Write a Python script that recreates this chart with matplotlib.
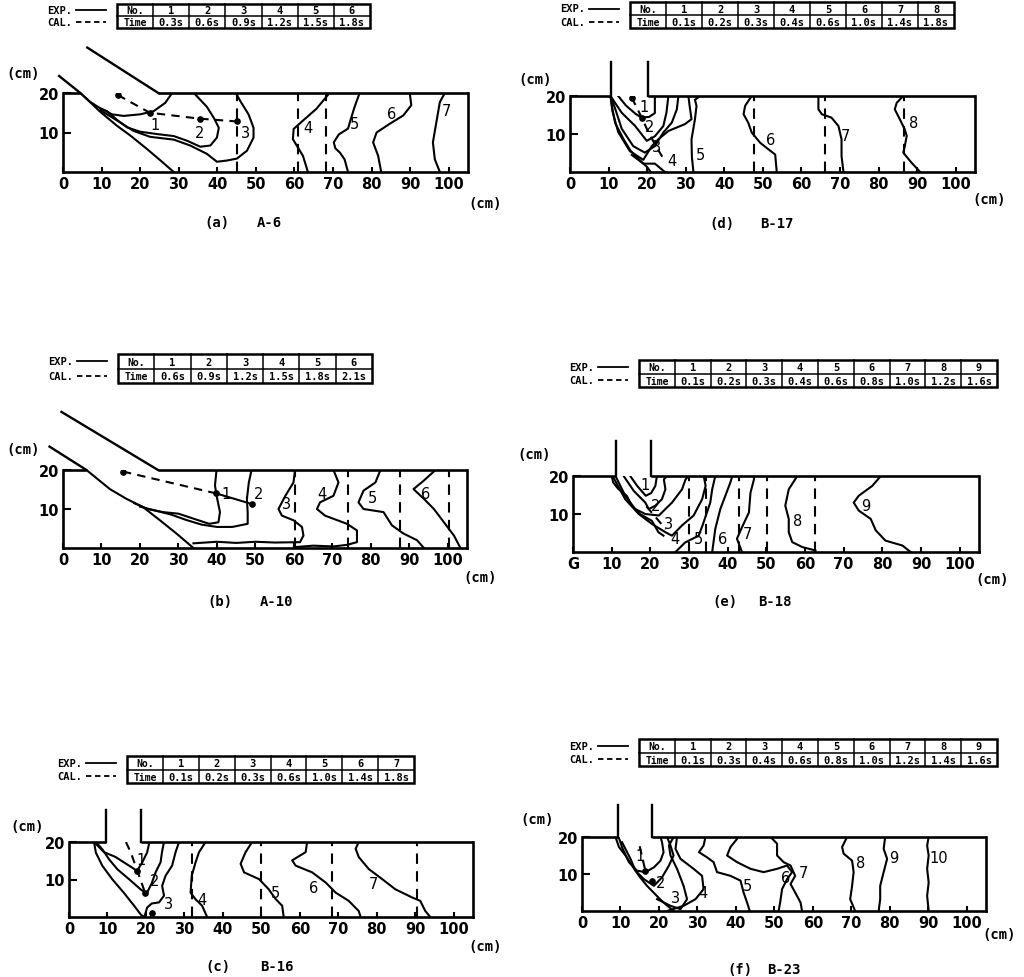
import matplotlib
matplotlib.use("Agg")
import matplotlib.pyplot as plt
from matplotlib.patches import Rectangle

W, H = 1024, 978

# ---- panel (a) A-6 ----
A6_NO = [1, 2, 3, 4, 5, 6]
A6_TIME = ["0.3s", "0.6s", "0.9s", "1.2s", "1.5s", "1.8s"]
A6_INLET = [[(6.3, 31.5), (24.7, 20)], [(-1.0, 24.3), (4.5, 20)]]
A6_GAP = (4.5, 24.7)
A6_EXP = [
    [(4.5, 20), (7, 17.8), (9.7, 16.1), (12.7, 14.6), (15.7, 14.2), (20, 14.6), (23.5, 15.4), (26.5, 17.5), (28.3, 20)],
    [(9.7, 16.1), (11.4, 15.4), (14, 13.2), (16.6, 11.3), (20, 10.2), (24.4, 9.6), (28.7, 9.1), (32.2, 7.9), (35.6, 6.4),
     (38.2, 6.7), (39.9, 8.7), (40.4, 11.2), (39.1, 13.7), (37.3, 16.5), (34.7, 19.2), (33.9, 20)],
    [(9.7, 15.6), (13.1, 13.6), (18.3, 10.4), (22.6, 8.9), (28.7, 8.2), (33, 6.7), (37.3, 4.6), (39.9, 2.6), (42.5, 2.9),
     (45.1, 3.4), (47.7, 5.4), (49.4, 8.7), (49.4, 11.2), (48.1, 14.6), (46, 17.9), (44.8, 20)],
    [(4.5, 20), (7.1, 17.6), (9.7, 15.2), (14, 11.7), (17.5, 9.2), (21.8, 5.8), (25.3, 2.9), (28.7, 0)],
    [(69.1, 20), (65.7, 16), (62.2, 13), (59.8, 10.9), (59.6, 8.3), (60.9, 6.2), (62.2, 4.1), (63.5, 0)],
    [(76.9, 20), (75.6, 16.5), (74.5, 13), (73.9, 11), (71.5, 9.5), (70.2, 7.5), (70.6, 6), (71.8, 4.9), (73, 3.2), (73.9, 0)],
    [(89.9, 20), (90.3, 16.9), (88.2, 14.3), (84.7, 12.2), (81.3, 10), (80.4, 7.5), (81.7, 4.1), (82.5, 0)],
    [(99, 20), (97.7, 17.7), (96.8, 12.6), (95.9, 7.5), (96.4, 3.2), (97.7, 0)],
]
A6_CAL = [[(14.2, 19.5), (22.5, 15), (35.5, 13.5), (45, 12.8)]]
A6_CAL_SOLID = []
A6_DOTS = [(14.2, 19.5), (22.5, 15), (35.5, 13.5), (45, 12.8)]
A6_VERT = [45, 61, 68.3]
A6_LABELS = [("1", 23.8, 11.9), ("2", 35.3, 10), ("3", 47.3, 10), ("4", 63.5, 11.3),
             ("5", 75.6, 12.2), ("6", 85.1, 14.7), ("7", 99.4, 15.6)]

# ---- panel (b) A-10 ----
A10_NO = [1, 2, 3, 4, 5, 6]
A10_TIME = ["0.6s", "0.9s", "1.2s", "1.5s", "1.8s", "2.1s"]
A10_INLET = [[(-0.4, 34.9), (24.7, 20)], [(-3.5, 26), (6.1, 20)]]
A10_GAP = (6.1, 24.7)
A10_EXP = [
    [(6.1, 20), (12.2, 15.1), (16.5, 12.6), (20.8, 10.5), (25.2, 7.1), (29.5, 3.7), (33.9, 0)],
    [(18.5, 11.5), (22, 10), (26, 9.2), (30, 8.8), (34, 7.5), (38, 6.2), (40.4, 6.6), (40.8, 9.2), (40, 13),
     (39.5, 16), (39.9, 20)],
    [(20, 10.6), (24, 9.6), (28, 8.6), (32, 7.2), (36, 6), (40, 5.4), (44, 5.4), (48, 6.2), (48, 9), (47.8, 12.6),
     (48.3, 16.8), (49, 20)],
    [(33.9, 1.2), (40, 1.6), (45, 1.3), (50, 1.6), (55, 1.4), (61.6, 1.5), (62.5, 3.2), (62.1, 5.4), (59.9, 7.1),
     (56.9, 8.3), (56, 10), (57.8, 13.4), (59.9, 16.8), (60.3, 20)],
    [(60, 0.2), (65, 0.6), (70.3, 0.4), (73.8, 0.8), (76.4, 1.5), (76.4, 4.5), (73.8, 6.2), (68.1, 8.3), (66, 10),
     (66.8, 11.7), (70.3, 13.4), (71.6, 16.8), (70.3, 20)],
    [(82.5, 20), (81.2, 16.8), (78.1, 14.7), (76.8, 11.7), (78.1, 10), (83.3, 9.2), (85.5, 5.8), (88.5, 3.7),
     (92, 2), (93.8, 0)],
    [(96.8, 20), (93.8, 17.3), (91.1, 15.1), (93.8, 12.6), (96.4, 10), (99, 6.6), (101.6, 3.2), (103.3, 0)],
]
A10_CAL = [[(15.6, 19.6), (39.8, 14)]]
A10_CAL_SOLID = [[(39.8, 14), (49, 11.3)]]
A10_DOTS = [(15.6, 19.6), (39.8, 14), (49, 11.3)]
A10_VERT = [60.3, 74.2, 87.7, 100.3]
A10_LABELS = [("1", 42.5, 14), ("2", 50.8, 13.9), ("3", 58, 11.3), ("4", 67.3, 13.9),
              ("5", 80.3, 13), ("6", 94.2, 13.9)]

# ---- panel (c) B-16 ----
B16_NO = [1, 2, 3, 4, 5, 6, 7]
B16_TIME = ["0.1s", "0.2s", "0.3s", "0.6s", "1.0s", "1.4s", "1.8s"]
B16_INLET = [[(9.7, 20), (9.7, 28.5)], [(18.6, 20), (18.6, 28.5)]]
B16_GAP = (9.7, 18.6)
B16_EXP = [
    [(6.5, 20), (7, 17.1), (8.7, 13.6), (11.3, 10), (14.3, 6.4), (17, 2.9), (18.7, 0.6), (19.6, 0)],
    [(6.5, 20), (9.1, 17.3), (12.1, 16), (15.6, 13.7), (17.7, 12.3), (19, 14.5), (20.3, 17.2), (20.8, 19.5), (20.6, 20)],
    [(7, 20), (8.7, 18), (10.4, 15.4), (12.6, 12.7), (15.7, 10), (18.7, 7.3), (20.2, 6.3), (21.5, 9), (22.5, 11.9),
     (23.8, 14.6), (24.2, 17.5), (24.7, 20)],
    [(19.6, 0), (20.3, 2.5), (21.5, 3.6), (23.4, 3.9), (24.7, 5.7), (24.2, 8.3), (25.1, 11), (26.8, 13.7),
     (27.7, 17.3), (28.6, 20)],
    [(35.5, 20), (33.8, 17.3), (32.9, 14.6), (31.9, 11), (31.6, 6.5), (32.9, 4.7), (34.6, 3), (35.9, 0)],
    [(47.6, 20), (45.9, 17.3), (44.6, 14.2), (45.5, 11.9), (49.4, 10.1), (51.9, 7.4), (53.7, 4.8), (55.4, 3), (55.8, 0)],
    [(61.9, 20), (61.5, 17.3), (58, 15.1), (58.9, 13.7), (63.2, 11.9), (66.7, 9.2), (69.3, 6.5), (72.7, 4.3),
     (75.3, 1.6), (75.8, 0)],
    [(75.3, 20), (74.5, 18.2), (75.3, 16), (77.9, 12.8), (81.4, 10.1), (84.8, 7.4), (89.2, 5.2), (91.3, 4.3),
     (92.6, 1.6), (93.9, 0)],
]
B16_CAL = [[(14.8, 20), (16.1, 17.1), (17.8, 12.2), (19.8, 6.4)]]
B16_CAL_SOLID = []
B16_DOTS = [(17.8, 12.3), (19.8, 6.4), (21.6, 1.2)]
B16_VERT = [32, 49.8, 68.4, 90.5]
B16_LABELS = [("1", 18.8, 15.2), ("2", 22.3, 9.7), ("3", 25.8, 3.5), ("4", 34.6, 4.7),
              ("5", 53.7, 6.5), ("6", 63.6, 7.9), ("7", 79.2, 8.8)]

# ---- panel (d) B-17 ----
B17_NO = [1, 2, 3, 4, 5, 6, 7, 8]
B17_TIME = ["0.1s", "0.2s", "0.3s", "0.4s", "0.6s", "1.0s", "1.4s", "1.8s"]
B17_INLET = [[(10.5, 20), (10.5, 29)], [(20.1, 20), (20.1, 29)]]
B17_GAP = (10.5, 20.1)
B17_EXP = [
    [(10.5, 20), (10.9, 17.2), (11.7, 12.9), (13.9, 8.6), (15.7, 5.6), (17.8, 3.4), (20, 1.3), (20.9, 0)],
    [(12.5, 20), (14.5, 17.5), (17, 15.3), (18.6, 14.3), (20.5, 14.5), (22, 15.5), (22, 20)],
    [(10.5, 20), (13.4, 15.6), (16.9, 12.1), (19.9, 8.2), (22, 9.4), (24.2, 12.1), (25, 15.6), (25.5, 20)],
    [(10.5, 20), (11.7, 16.7), (13.4, 11.4), (16.4, 6.8), (19.4, 5.1), (22, 6.8), (24.2, 10.4), (26.4, 13),
     (27.7, 16.5), (28.1, 20)],
    [(10.5, 20), (11, 16), (12.5, 10.5), (15.5, 5.5), (19, 3.2), (21.2, 6.8), (22.9, 8.6), (25.5, 10.8),
     (29.8, 12.6), (31.5, 13.9), (31, 17.5), (30.7, 20)],
    [(16, 4.5), (19, 2.2), (22, 2.2), (24.6, 0)],
    [(32, 0), (31.6, 4), (31.5, 8.6), (32.4, 13.9), (32.8, 17.4), (32.4, 19), (33.7, 20)],
    [(47.1, 20), (45.4, 17.4), (45, 15.2), (46.2, 13), (47.1, 10.4), (49.3, 7.7), (51.4, 6), (53.2, 4.6), (53.6, 0)],
    [(64.4, 20), (64.4, 16.5), (65.3, 15.2), (67.8, 14.3), (69.6, 12.1), (70.4, 8.6), (70.4, 4.2), (70.9, 0)],
    [(86.4, 20), (84.7, 18.2), (84.2, 16.5), (85.5, 13.9), (86.8, 11.2), (87.3, 9.5), (86.8, 6.8), (86.4, 5.1),
     (88.5, 2.5), (90.8, 0)],
]
B17_CAL = [[(16, 19.6), (18.6, 14.3), (20.3, 10.5), (22.3, 6.8), (24.5, 3)]]
B17_CAL_SOLID = []
B17_DOTS = [(16, 19.6), (18.6, 14.3)]
B17_VERT = [47.8, 66.1, 86.7]
B17_LABELS = [("1", 19.3, 17.2), ("2", 20.7, 12.1), ("3", 22.5, 6.8), ("4", 26.4, 2.9),
              ("5", 33.7, 4.6), ("6", 51.9, 8.6), ("7", 71.3, 9.5), ("8", 89, 13)]

# ---- panel (e) B-18 ----
B18_NO = [1, 2, 3, 4, 5, 6, 7, 8, 9]
B18_TIME = ["0.1s", "0.2s", "0.3s", "0.4s", "0.6s", "0.8s", "1.0s", "1.2s", "1.6s"]
B18_INLET = [[(11, 20), (11, 29.1)], [(20.3, 20), (20.3, 29.1)]]
B18_GAP = (11, 20.3)
B18_EXP = [
    [(10, 20), (10.4, 18.3), (11.7, 16.6), (13.9, 14.8), (15.2, 12.2), (17.3, 10), (20.4, 8.2), (22.1, 5.2), (23.4, 4.3)],
    [(14.8, 20), (16.6, 17.4), (18.8, 14.8), (20.2, 15.5), (21.3, 17.4), (21.7, 20)],
    [(13.1, 20), (15.7, 16.1), (18.7, 13), (19.6, 11.3), (21.3, 12.2), (23, 13.9), (23.9, 16.5), (23.5, 19.1), (24.3, 20)],
    [(11, 20), (13.5, 14.8), (16.1, 11.3), (18.7, 10), (22.2, 9.6), (25.6, 13), (28.2, 16.5), (29.1, 19.1), (29.9, 20)],
    [(10.5, 19.5), (13.5, 13.9), (17, 10), (20.4, 7.4), (23.9, 5.2), (25.6, 4.3), (28.2, 7), (31.2, 9.6), (33.4, 13.9),
     (34.3, 17.4), (33.8, 20)],
    [(26.5, 0), (29, 2.5), (32.5, 4.3), (33.5, 7), (34.5, 10), (35.5, 13), (36, 16.5), (36.8, 20)],
    [(36, 0), (36.8, 6.1), (38.1, 11.3), (39.4, 14.8), (40.7, 18.3), (41.2, 20)],
    [(43.7, 0), (42.4, 3.5), (43.7, 6.5), (45.5, 10.4), (45.9, 15.6), (46.8, 19.1), (46.8, 20)],
    [(58, 20), (55.8, 16.5), (54.9, 12.2), (55.8, 8.7), (55.8, 5.2), (56.7, 2.6), (59.3, 1.3), (62.7, 0.4)],
    [(79.6, 20), (77.4, 17.4), (73.9, 14.8), (72.6, 13), (73.9, 10.9), (77, 8.7), (78.3, 5.7), (80.8, 3), (85.2, 1.7),
     (87.3, 0)],
]
B18_CAL = [[(19, 12), (21.5, 9), (24, 6)]]
B18_CAL_SOLID = []
B18_DOTS = []
B18_VERT = [29.9, 34.3, 42.9, 50.2, 62.7]
B18_LABELS = [("1", 18.7, 17.8), ("2", 21.3, 12.2), ("3", 24.6, 7.4), ("4", 26.3, 3.5), ("5", 32.5, 3.5),
              ("6", 38.6, 3.5), ("7", 45, 4.8), ("8", 58.2, 8.3), ("9", 75.7, 12.2)]

# ---- panel (f) B-23 ----
B23_NO = [1, 2, 3, 4, 5, 6, 7, 8, 9]
B23_TIME = ["0.1s", "0.3s", "0.4s", "0.6s", "0.8s", "1.0s", "1.2s", "1.4s", "1.6s"]
B23_INLET = [[(9.3, 20), (9.3, 28.6)], [(18.2, 20), (18.2, 28.6)]]
B23_GAP = (9.3, 18.2)
B23_EXP = [
    [(8.7, 20), (9.6, 17.3), (11.3, 15), (13, 12.3), (14.8, 9.5), (16.9, 6.8), (19.9, 3.6), (21.2, 2.3), (23.8, 0)],
    [(9.5, 20), (10.5, 17), (12.2, 13.2), (14.3, 10.9), (16.5, 10.5), (18.7, 11.8), (20.4, 13.6), (21.2, 15.9),
     (20.8, 18.6), (20.4, 20)],
    [(10.4, 18.6), (12.6, 14.1), (13.9, 10.9), (16.1, 8.6), (18.7, 6.8), (20.8, 9.1), (22.6, 12.3), (23.8, 15),
     (23, 17.7), (22.1, 20)],
    [(19.5, 3.2), (23, 1.4), (25.6, 0.5), (27.3, 3.2), (26.4, 6.8), (24.7, 11.4), (23, 15), (22.6, 17.7), (23.8, 20)],
    [(22.1, 0), (26.4, 1.4), (29.5, 3.2), (31.6, 5.9), (31.2, 9.5), (29, 11.4), (25.6, 14.1), (24.3, 16.8), (24.7, 20)],
    [(32.1, 20), (31.6, 17.7), (30.4, 15.9), (32.5, 14.5), (34.2, 13.2), (35.1, 10.5), (38.6, 9.5), (41.2, 8.2),
     (42, 5), (42.9, 2.3), (43.6, 0)],
    [(40.7, 20), (38.6, 17.3), (37.7, 15), (40.3, 13.2), (43.8, 11.4), (47.2, 10.5), (50.7, 11.4), (53.3, 12.3),
     (54.6, 10.5), (53.3, 8.6), (52, 5.9), (51.5, 2.3), (51.1, 0)],
    [(49, 20), (50.7, 18.2), (50.7, 15), (52.4, 13.2), (54.2, 12.3), (55.4, 9.5), (54.2, 7.3), (55.4, 5), (56.8, 2.3),
     (57.2, 0)],
    [(68.9, 20), (67.6, 17.3), (68, 15.5), (70.2, 13.6), (70.6, 10.5), (70.2, 6.8), (69.7, 3.2), (71, 0)],
    [(78.8, 20), (78.4, 16.8), (79.3, 14.1), (78.4, 10.5), (77.5, 6.8), (77.5, 3.2), (77.1, 0)],
    [(90.1, 20), (89.7, 17.7), (90.1, 15), (89.7, 11.4), (90.1, 7.7), (89.7, 4.1), (90.1, 0)],
]
B23_CAL = [[(15, 17.5), (16.5, 10.7)]]
B23_CAL_SOLID = []
B23_DOTS = [(16.5, 10.7), (18.2, 8.2)]
B23_VERT = []
B23_LABELS = [("1", 15, 15), ("2", 20.4, 7.7), ("3", 24.3, 3.6), ("4", 31.5, 5), ("5", 42.9, 6.8),
              ("6", 52.9, 9.1), ("7", 57.6, 10.5), ("8", 72.3, 13.2), ("9", 81, 14.5), ("10", 92.7, 14.5)]

X_TICKS = [0, 10, 20, 30, 40, 50, 60, 70, 80, 90, 100]
X_LABELS = ["0", "10", "20", "30", "40", "50", "60", "70", "80", "90", "100"]
X_LABELS_E = ["G"] + X_LABELS[1:]

LW = 1.5
NUM_FONT = dict(family="DejaVu Sans", fontsize=10.5, fontweight="bold")
MONO = dict(family="DejaVu Sans Mono", fontweight="bold")

fig = plt.figure(figsize=(W / 100, H / 100), dpi=100)
fig.patch.set_facecolor("white")


def draw_panel(box, inlet, gap, exp, cal, cal_solid, dots, vert, labels, xlabels):
    l, t, r, b = box
    ax = fig.add_axes([l / W, 1 - b / H, (r - l) / W, (b - t) / H])
    ax.set_xlim(0, 105)
    ax.set_ylim(0, 20)
    ax.patch.set_alpha(0)
    ax.spines["top"].set_visible(False)
    for s in ("left", "bottom", "right"):
        ax.spines[s].set_linewidth(1.9)
    ax.set_xticks(X_TICKS)
    ax.set_xticklabels(xlabels, **NUM_FONT)
    ax.set_yticks([10, 20])
    ax.set_yticklabels(["10", "20"], **NUM_FONT)
    ax.tick_params(axis="x", direction="in", length=3.5, width=1.5, pad=3)
    ax.tick_params(axis="y", direction="in", length=6, width=1.5, pad=3)

    ax.plot([0, gap[0]], [20, 20], color="k", lw=1.9, clip_on=False, solid_capstyle="butt")
    ax.plot([gap[1], 105], [20, 20], color="k", lw=1.9, clip_on=False, solid_capstyle="butt")
    for ln in inlet:
        xs, ys = zip(*ln)
        ax.plot(xs, ys, color="k", lw=LW + 0.2, clip_on=False)
    for ln in exp:
        xs, ys = zip(*ln)
        ax.plot(xs, ys, color="k", lw=LW, solid_joinstyle="round")
    for ln in cal:
        xs, ys = zip(*ln)
        ax.plot(xs, ys, color="k", lw=LW, ls=(0, (4, 3)))
    for ln in cal_solid:
        xs, ys = zip(*ln)
        ax.plot(xs, ys, color="k", lw=LW)
    if dots:
        xs, ys = zip(*dots)
        ax.plot(xs, ys, "o", color="k", ms=3.8, ls="none")
    for v in vert:
        ax.plot([v, v], [0, 20], color="k", lw=LW, ls=(0, (5, 3.5)))
    for txt, x, y in labels:
        ax.text(x, y, txt, ha="center", va="center", fontsize=10.5, family="DejaVu Sans")
    return ax


draw_panel((63, 94, 468, 173), A6_INLET, A6_GAP, A6_EXP, A6_CAL, A6_CAL_SOLID, A6_DOTS, A6_VERT, A6_LABELS, X_LABELS)
draw_panel((570, 97, 975, 173), B17_INLET, B17_GAP, B17_EXP, B17_CAL, B17_CAL_SOLID, B17_DOTS, B17_VERT,
           B17_LABELS, X_LABELS)
draw_panel((63, 471, 467, 549), A10_INLET, A10_GAP, A10_EXP, A10_CAL, A10_CAL_SOLID, A10_DOTS, A10_VERT,
           A10_LABELS, X_LABELS)
draw_panel((573, 477, 979, 553), B18_INLET, B18_GAP, B18_EXP, B18_CAL, B18_CAL_SOLID, B18_DOTS, B18_VERT,
           B18_LABELS, X_LABELS_E)
draw_panel((69, 843, 473, 918), B16_INLET, B16_GAP, B16_EXP, B16_CAL, B16_CAL_SOLID, B16_DOTS, B16_VERT,
           B16_LABELS, X_LABELS)
draw_panel((582, 838, 986, 912), B23_INLET, B23_GAP, B23_EXP, B23_CAL, B23_CAL_SOLID, B23_DOTS, B23_VERT,
           B23_LABELS, X_LABELS)

# overlay in pixel coordinates for tables and captions
ov = fig.add_axes([0, 0, 1, 1])
ov.set_xlim(0, W)
ov.set_ylim(H, 0)
ov.axis("off")
ov.patch.set_alpha(0)


def draw_table(box, nos, times):
    l, t, r, b = box
    n = len(nos) + 1
    cw = (r - l) / n
    mid = (t + b) / 2
    ov.add_patch(Rectangle((l, t), r - l, b - t, fill=False, lw=1.8, ec="k"))
    ov.plot([l, r], [mid, mid], color="k", lw=1.1)
    for i in range(1, n):
        ov.plot([l + i * cw, l + i * cw], [t, b], color="k", lw=1.1)
    ov.text(l + cw / 2, (t + mid) / 2 + 0.5, "No.", ha="center", va="center", fontsize=7, **MONO)
    ov.text(l + cw / 2, (mid + b) / 2 + 0.5, "Time", ha="center", va="center", fontsize=7, **MONO)
    for i, (nn, tm) in enumerate(zip(nos, times)):
        cx = l + (i + 1.5) * cw
        ov.text(cx, (t + mid) / 2 + 0.5, str(nn), ha="center", va="center", fontsize=7.5, **MONO)
        ov.text(cx, (mid + b) / 2 + 0.5, tm, ha="center", va="center", fontsize=7.5, **MONO)
    lx = l - 70
    ov.text(lx, (t + mid) / 2, "EXP.", ha="left", va="center", fontsize=7.5, **MONO)
    ov.text(lx, (mid + b) / 2, "CAL.", ha="left", va="center", fontsize=7.5, **MONO)
    ov.plot([lx + 29, lx + 59], [(t + mid) / 2, (t + mid) / 2], color="k", lw=1.3)
    ov.plot([lx + 29, lx + 59], [(mid + b) / 2, (mid + b) / 2], color="k", lw=1.3, ls=(0, (3, 2)))


draw_table((117, 5, 370, 29), A6_NO, A6_TIME)
draw_table((630, 3, 954, 29), B17_NO, B17_TIME)
draw_table((118, 355, 372, 384), A10_NO, A10_TIME)
draw_table((639, 361, 997, 388), B18_NO, B18_TIME)
draw_table((127, 757, 414, 784), B16_NO, B16_TIME)
draw_table((639, 740, 997, 767), B23_NO, B23_TIME)

CM_LABELS = [(23, 74), (485, 204), (535, 80), (989, 200), (23, 450), (480, 578),
             (534, 455), (992, 580), (27, 827), (485, 947), (537, 820), (999, 935)]
for x, y in CM_LABELS:
    ov.text(x, y, "(cm)", ha="center", va="center", fontsize=10, **MONO)

CAPTIONS = [("(a)", "A-6", 217, 269, 223), ("(d)", "B-17", 722, 777, 224), ("(b)", "A-10", 220, 277, 602),
            ("(e)", "B-18", 725, 775, 602), ("(c)", "B-16", 218, 277, 967), ("(f)", "B-23", 740, 784, 970)]
for c1, c2, x1, x2, y in CAPTIONS:
    ov.text(x1, y, c1, ha="center", va="center", fontsize=10, **MONO)
    ov.text(x2, y, c2, ha="center", va="center", fontsize=10, **MONO)

fig.savefig("out.png", dpi=100, facecolor="white")
